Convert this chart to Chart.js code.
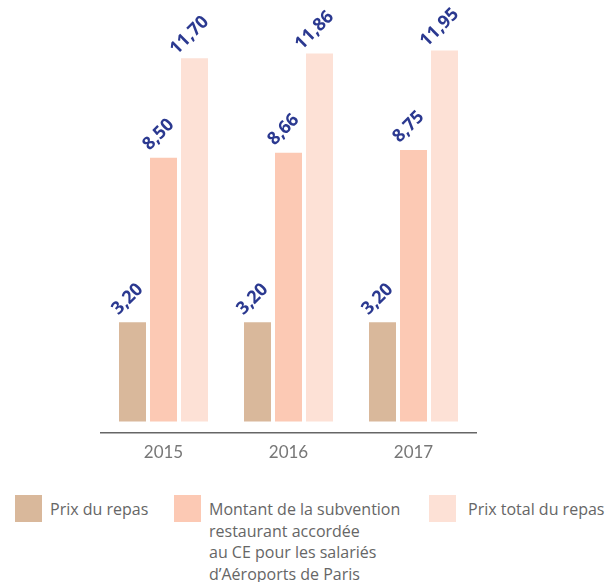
<!DOCTYPE html>
<html>
<head>
<meta charset="utf-8">
<script src="https://cdn.jsdelivr.net/npm/chart.js@4"></script>
<style>
  body { margin: 0; background: #fff; width: 605px; height: 582px; overflow: hidden; font-family: "Open Sans", sans-serif; }
  #wrap { position: absolute; left: 0; top: 0; width: 605px; height: 465px; }
  .legend { position: absolute; top: 495px; font-size: 16px; color: #666; line-height: 21.7px; }
  .sw { position: absolute; top: 0; width: 27px; height: 27px; }
  .lt { position: absolute; top: 4px; white-space: nowrap; }
</style>
</head>
<body>
<div id="wrap"><canvas id="myChart" width="605" height="465"></canvas></div>

<div class="legend" style="left:15px"><div class="sw" style="background:#d9b89b"></div><div class="lt" style="left:35px">Prix du repas</div></div>
<div class="legend" style="left:174px"><div class="sw" style="background:#fcc9b4"></div><div class="lt" style="left:35px">Montant de la subvention<br>restaurant accordée<br>au CE pour les salariés<br>d’Aéroports de Paris</div></div>
<div class="legend" style="left:429px"><div class="sw" style="background:#fde1d6"></div><div class="lt" style="left:39px">Prix total du repas</div></div>

<script>
const years = ["2015", "2016", "2017"];
const prixRepas = [3.20, 3.20, 3.20];
const subvention = [8.50, 8.66, 8.75];
const prixTotal = [11.70, 11.86, 11.95];

// labels rotated above each bar
const labelPlugin = {
  id: "barLabels",
  afterDatasetsDraw(chart) {
    const ctx = chart.ctx;
    ctx.save();
    ctx.fillStyle = "#2b3990";
    ctx.font = "bold 18px 'Open Sans', sans-serif";
    ctx.textAlign = "center";
    ctx.textBaseline = "middle";
    chart.data.datasets.forEach((ds, i) => {
      chart.getDatasetMeta(i).data.forEach((bar, j) => {
        ctx.save();
        ctx.translate(bar.x - 5, bar.y - 23);
        ctx.rotate(-Math.PI / 4);
        ctx.fillText(ds.data[j].toFixed(2).replace(".", ","), 0, 0);
        ctx.restore();
      });
    });
    ctx.restore();
  }
};

const ctx = document.getElementById("myChart").getContext("2d");
new Chart(ctx, {
  type: "bar",
  data: {
    labels: years,
    datasets: [
      { label: "Prix du repas", data: prixRepas, backgroundColor: "#d9b89b" },
      { label: "Montant de la subvention", data: subvention, backgroundColor: "#fcc9b4" },
      { label: "Prix total du repas", data: prixTotal, backgroundColor: "#fde1d6" }
    ]
  },
  options: {
    responsive: false,
    animation: false,
    categoryPercentage: 0.744,
    barPercentage: 0.871,
    layout: { padding: { left: 101, right: 129, top: 18, bottom: 0 } },
    plugins: { legend: { display: false }, tooltip: { enabled: false } },
    scales: {
      x: {
        grid: { display: false },
        border: { display: true, color: "#666", width: 1.5 },
        ticks: { color: "#777", font: { family: "Lato", size: 17 }, padding: 2 }
      },
      y: {
        display: false,
        min: -0.355,
        max: 13
      }
    }
  },
  plugins: [labelPlugin]
});
</script>
</body>
</html>
